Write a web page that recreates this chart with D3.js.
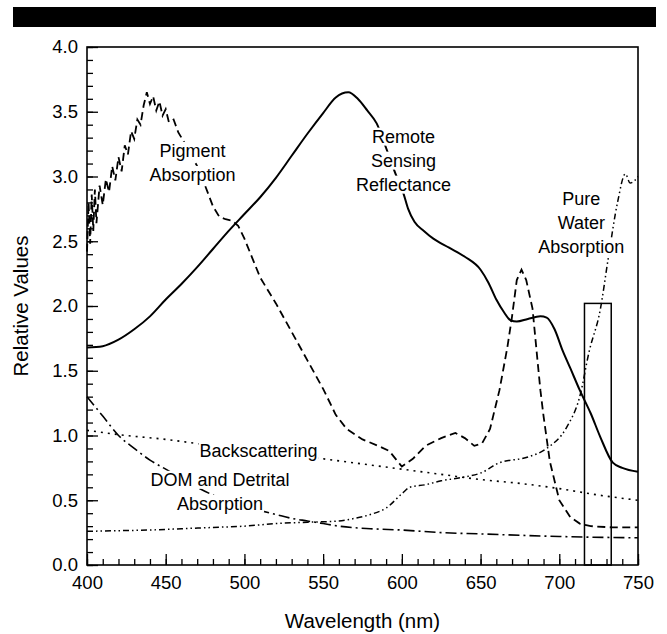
<!DOCTYPE html>
<html><head><meta charset="utf-8">
<script src="https://cdn.jsdelivr.net/npm/d3@7"></script>
<style>
body{margin:0;background:#fff}
svg{display:block}
text{font-family:"Liberation Sans",Arial,Helvetica,sans-serif;fill:#000}
</style>
</head><body>
<svg id="c" width="667" height="634"></svg>
<script>
// ---- data (wavelength nm, relative value) ----
const reflectance = [[400,1.68],[410,1.69],[420,1.74],[430,1.82],[440,1.92],[450,2.05],[460,2.17],[470,2.30],[480,2.44],[490,2.58],[500,2.71],[510,2.84],[520,2.99],[530,3.16],[540,3.33],[550,3.49],[558,3.61],[566,3.65],[572,3.60],[578,3.51],[584,3.41],[590,3.22],[596,3.02],[601,2.87],[604,2.75],[608,2.65],[614,2.58],[620,2.52],[630,2.45],[640,2.38],[650,2.28],[655,2.18],[660,2.05],[665,1.95],[669,1.89],[673,1.88],[680,1.90],[688,1.92],[692,1.91],[697,1.82],[702,1.66],[707,1.52],[713,1.35],[720,1.17],[726,0.99],[734,0.79],[740,0.75],[750,0.72]];
const pigment = [[400,2.42],[401,2.8],[402,2.48],[403,2.86],[404,2.58],[405,2.9],[406,2.64],[408,2.93],[410,2.78],[412,2.98],[414,2.88],[416,3.08],[418,2.97],[420,3.15],[422,3.04],[424,3.24],[426,3.17],[428,3.35],[430,3.29],[432,3.44],[434,3.4],[436,3.55],[438,3.65],[440,3.56],[442,3.62],[444,3.51],[446,3.58],[448,3.47],[450,3.52],[452,3.42],[455,3.44],[458,3.34],[461,3.28],[465,3.19],[470,3.08],[475,2.93],[480,2.77],[484,2.69],[488,2.67],[492,2.66],[496,2.62],[500,2.52],[505,2.37],[510,2.22],[520,2.02],[530,1.80],[540,1.58],[550,1.36],[558,1.16],[565,1.05],[575,0.97],[585,0.92],[592,0.88],[600,0.76],[607,0.82],[615,0.92],[625,0.98],[634,1.02],[640,0.98],[646,0.92],[651,0.94],[656,1.05],[662,1.35],[667,1.68],[670,1.92],[673,2.2],[676,2.28],[679,2.2],[683,1.98],[686,1.6],[688,1.35],[690,1.15],[694,0.8],[700,0.5],[707,0.37],[713,0.32],[720,0.30],[734,0.29],[750,0.29]];
const pureWater = [[400,0.26],[420,0.265],[440,0.27],[460,0.28],[480,0.29],[500,0.30],[520,0.32],[540,0.33],[560,0.34],[570,0.36],[580,0.39],[590,0.44],[600,0.55],[605,0.60],[615,0.62],[625,0.65],[640,0.68],[650,0.71],[662,0.79],[679,0.83],[692,0.90],[705,1.07],[713,1.30],[719,1.65],[726,1.97],[731,2.36],[737,2.80],[742,3.02],[745,2.95],[748,2.97],[750,3.00]];
const domDetrital = [[400,1.30],[410,1.15],[420,1.00],[430,0.90],[440,0.81],[450,0.74],[460,0.67],[470,0.60],[480,0.54],[490,0.49],[500,0.45],[510,0.42],[520,0.39],[530,0.36],[540,0.34],[550,0.32],[560,0.30],[580,0.28],[600,0.27],[625,0.25],[650,0.24],[700,0.22],[750,0.21]];
const backscattering = [[400,1.04],[425,1.00],[450,0.97],[475,0.93],[500,0.90],[525,0.86],[550,0.82],[575,0.78],[600,0.74],[625,0.70],[650,0.66],[675,0.63],[700,0.59],[725,0.54],[750,0.50]];
const bandWavelengths = [716, 733];
const bandTop = 2.02;
const xMajorTicks = [400,450,500,550,600,650,700,750];
const yMajorTicks = [0,0.5,1,1.5,2,2.5,3,3.5,4];
const curveLabels = [
  {lines:["Pigment","Absorption"], at:[467,3.20]},
  {lines:["Remote","Sensing","Reflectance"], at:[601,3.31]},
  {lines:["Pure","Water","Absorption"], at:[714,2.83]},
  {lines:["Backscattering"], at:[509,0.88]},
  {lines:["DOM and Detrital","Absorption"], at:[484.5,0.66]}
];

// ---- layout ----
const svg = d3.select("#c");
const x = d3.scaleLinear([400,750],[87,638]);
const y = d3.scaleLinear([0,4],[565,47]);

// top black bar
svg.append("rect").attr("x",13).attr("y",7).attr("width",643).attr("height",20).attr("fill","#000");

// axes
const gx = svg.append("g").attr("transform",`translate(0,${y(0)})`);
gx.call(d3.axisBottom(x).tickValues(d3.range(400,751,10)).tickSize(-6).tickFormat(""));
const gx2 = svg.append("g").attr("transform",`translate(0,${y(0)})`);
gx2.call(d3.axisBottom(x).tickValues(xMajorTicks).tickSize(-11).tickPadding(11).tickFormat(d3.format("d")));
const gy = svg.append("g").attr("transform",`translate(${x(400)},0)`);
gy.call(d3.axisLeft(y).tickValues(d3.range(0,41).map(d=>d/10)).tickSize(-6).tickFormat(""));
const gy2 = svg.append("g").attr("transform",`translate(${x(400)},0)`);
gy2.call(d3.axisLeft(y).tickValues(yMajorTicks).tickSize(-11).tickPadding(9).tickFormat(d3.format(".1f")));
svg.selectAll(".domain").remove();
svg.selectAll(".tick line").attr("stroke","#000").attr("stroke-width",1.3);
svg.selectAll(".tick text").attr("font-size",18.5).attr("fill","#000")
  .style("font-family",'"Liberation Sans",Arial,sans-serif');

// lines
const line = d3.line().x(d=>x(d[0])).y(d=>y(d[1])).curve(d3.curveMonotoneX);
const plot = svg.append("g").attr("fill","none").attr("stroke","#000");
plot.append("path").datum(domDetrital).attr("d",line).attr("stroke-width",1.6).attr("stroke-dasharray","11,4,2,4");
plot.append("path").datum(pureWater).attr("d",line).attr("stroke-width",1.5).attr("stroke-dasharray","6,3,1.5,3,1.5,3");
plot.append("path").datum(backscattering).attr("d",line).attr("stroke-width",1.6).attr("stroke-dasharray","2,5");
plot.append("path").datum(pigment).attr("d",d3.line().x(d=>x(d[0])).y(d=>y(d[1])).curve(d3.curveLinear)).attr("stroke-width",1.8).attr("stroke-dasharray","8,4.5");
plot.append("path").datum(reflectance).attr("d",line).attr("stroke-width",2);

// band rectangle
svg.append("rect").attr("x",x(bandWavelengths[0])).attr("y",y(bandTop))
  .attr("width",x(bandWavelengths[1])-x(bandWavelengths[0])).attr("height",y(0)-y(bandTop))
  .attr("fill","none").attr("stroke","#000").attr("stroke-width",1.5);

// curve labels with white backgrounds
const lg = svg.append("g");
curveLabels.forEach(l=>{
  l.lines.forEach((t,i)=>{
    const tx = lg.append("text").attr("x",x(l.at[0])).attr("y",y(l.at[1])+i*24)
      .attr("dy","0.35em").attr("text-anchor","middle").attr("font-size",18).text(t);
    const b = tx.node().getBBox();
    lg.insert("rect","text").attr("x",b.x-1).attr("y",b.y+1).attr("width",b.width+2).attr("height",b.height-2).attr("fill","#fff");
  });
});
lg.selectAll("text").raise();

// frame
svg.append("rect").attr("x",x(400)).attr("y",y(4)).attr("width",x(750)-x(400)).attr("height",y(0)-y(4))
  .attr("fill","none").attr("stroke","#000").attr("stroke-width",1.6);

// axis titles
svg.append("text").attr("x",(x(400)+x(750))/2).attr("y",628).attr("text-anchor","middle").attr("font-size",20.5).text("Wavelength (nm)");
svg.append("text").attr("transform",`translate(28,${(y(0)+y(4))/2}) rotate(-90)`).attr("text-anchor","middle").attr("font-size",20.5).text("Relative Values");
</script>
</body></html>
